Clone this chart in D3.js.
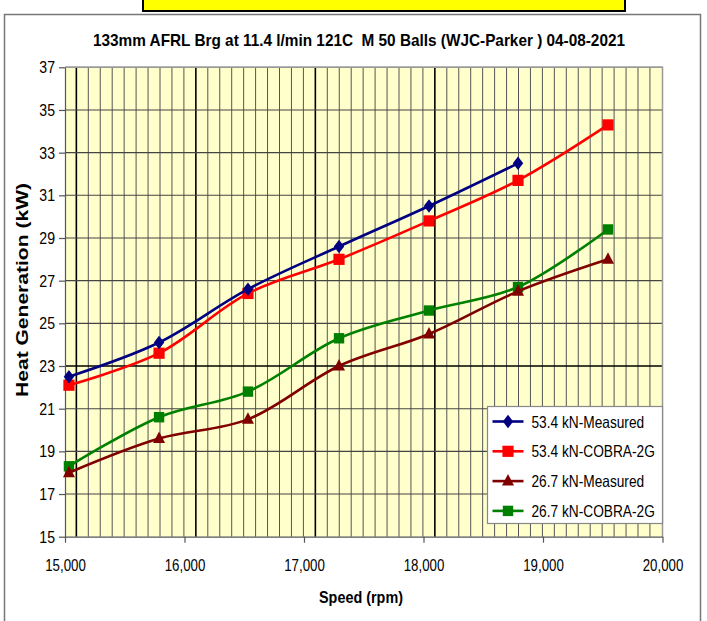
<!DOCTYPE html>
<html>
<head>
<meta charset="utf-8">
<script src="https://cdn.jsdelivr.net/npm/d3@7"></script>
<style>
  body { margin: 0; background: #fff; }
  svg { display: block; }
  .narrow { font-family: "Liberation Sans", Arial, sans-serif; }
  .bold { font-family: "Liberation Sans", Arial, sans-serif; font-weight: bold; }
</style>
</head>
<body>
<div id="chart"></div>
<script>
const speeds = [15033, 15787, 16531, 17293, 18046, 18791, 19544];
const measured534 = [22.5, 24.1, 26.6, 28.6, 30.5, 32.5];
const cobra534 = [22.1, 23.6, 26.4, 28.0, 29.8, 31.7, 34.3];
const measured267 = [18.0, 19.6, 20.5, 23.0, 24.5, 26.5, 28.0];
const cobra267 = [18.3, 20.6, 21.8, 24.3, 25.6, 26.7, 29.4];
const seriesNames = ["53.4 kN-Measured", "53.4 kN-COBRA-2G", "26.7 kN-Measured", "26.7 kN-COBRA-2G"];
const yTicks = [15, 17, 19, 21, 23, 25, 27, 29, 31, 33, 35, 37];
const xTicks = [15000, 16000, 17000, 18000, 19000, 20000];

const W = 707, H = 621;
const margin = { top: 67.3, left: 65, right: 44.5, bottom: 84.3 };
const width = W - margin.left - margin.right,
      height = H - margin.top - margin.bottom;

const svg = d3.select("#chart").append("svg")
    .attr("width", W)
    .attr("height", H);

// outer frame + yellow box at top
svg.append("rect")
    .attr("x", 4.5).attr("y", 14.5)
    .attr("width", 696).attr("height", 620)
    .attr("fill", "none").attr("stroke", "#777").attr("stroke-width", 1.5);
svg.append("rect")
    .attr("x", 143).attr("y", -5)
    .attr("width", 482).attr("height", 16)
    .attr("fill", "#ffff00").attr("stroke", "#000").attr("stroke-width", 2);

svg.append("text")
    .attr("class", "bold")
    .attr("x", 359).attr("y", 46)
    .attr("text-anchor", "middle")
    .attr("font-size", 17)
    .style("white-space", "pre")
    .attr("textLength", 532).attr("lengthAdjust", "spacingAndGlyphs")
    .text("133mm AFRL Brg at 11.4 l/min 121C  M 50 Balls (WJC-Parker ) 04-08-2021");

const g = svg.append("g")
    .attr("transform", "translate(" + margin.left + "," + margin.top + ")");

const x = d3.scaleLinear().domain([15000, 20000]).range([0, width]);
const y = d3.scaleLinear().domain([15, 37]).range([height, 0]);

g.append("rect")
    .attr("width", width).attr("height", height)
    .attr("fill", "#ffffcc");

// vertical grid lines (offset minor grid)
const vGrid = d3.range(0, 49).map(k => 15095 + 100 * k);
g.selectAll(".vgrid")
  .data(vGrid)
  .enter().append("line")
    .attr("x1", d => x(d)).attr("x2", d => x(d))
    .attr("y1", 0).attr("y2", height)
    .attr("stroke", (d, i) => (i % 10 === 0 && i < 40) ? "#000" : "#555")
    .attr("stroke-width", (d, i) => (i % 10 === 0 && i < 40) ? 1.6 : 1);

// horizontal grid lines
g.selectAll(".hgrid")
  .data(yTicks.slice(1))
  .enter().append("line")
    .attr("x1", 0).attr("x2", width)
    .attr("y1", d => y(d)).attr("y2", d => y(d))
    .attr("stroke", d => d === 23 ? "#000" : "#444")
    .attr("stroke-width", d => d === 23 ? 1.6 : 1.1);

// plot border top/right
g.append("path")
    .attr("d", "M0,0H" + width + "V" + height)
    .attr("fill", "none").attr("stroke", "#999").attr("stroke-width", 1.5);

// axes
const yAxis = g.append("g")
    .call(d3.axisLeft(y).tickValues(yTicks).tickSize(6).tickPadding(4).tickSizeOuter(0));
yAxis.selectAll("text").attr("class", "narrow").attr("font-size", 17).attr("fill", "#000");
yAxis.selectAll("line, path").attr("stroke", "#555").attr("stroke-width", 1.2);

const xAxis = g.append("g")
    .attr("transform", "translate(0," + height + ")")
    .call(d3.axisBottom(x).tickValues(xTicks).tickFormat(d3.format(",")).tickSize(6).tickPadding(17).tickSizeOuter(0));
xAxis.selectAll("text").attr("class", "narrow").attr("font-size", 16).attr("fill", "#000");
xAxis.selectAll("line, path").attr("stroke", "#555").attr("stroke-width", 1.2);

g.selectAll(".tick text").attr("font-family", null);

// axis labels
svg.append("text")
    .attr("class", "bold")
    .attr("x", 361).attr("y", 603)
    .attr("text-anchor", "middle")
    .attr("font-size", 16)
    .attr("textLength", 84).attr("lengthAdjust", "spacingAndGlyphs")
    .text("Speed (rpm)");

svg.append("text")
    .attr("class", "bold")
    .attr("transform", "translate(28,290) rotate(-90)")
    .attr("text-anchor", "middle")
    .attr("font-size", 16)
    .attr("textLength", 214).attr("lengthAdjust", "spacingAndGlyphs")
    .text("Heat Generation (kW)");

// marker shapes
const diamond = { draw(ctx, s) { ctx.moveTo(0, -6.8); ctx.lineTo(5.2, 0); ctx.lineTo(0, 6.8); ctx.lineTo(-5.2, 0); ctx.closePath(); } };
const squareL = { draw(ctx, s) { ctx.rect(-5.6, -5.6, 11.2, 11.2); } };
const squareS = { draw(ctx, s) { ctx.rect(-5.2, -5.2, 10.4, 10.4); } };
const triangle = { draw(ctx, s) { ctx.moveTo(0, -7); ctx.lineTo(6, 4.5); ctx.lineTo(-6, 4.5); ctx.closePath(); } };

const series = [
  { name: seriesNames[0], values: measured534, color: "#000080", shape: diamond },
  { name: seriesNames[1], values: cobra534, color: "#ff0000", shape: squareL },
  { name: seriesNames[2], values: measured267, color: "#800000", shape: triangle },
  { name: seriesNames[3], values: cobra267, color: "#008000", shape: squareS }
];

const line = d3.line()
    .x(d => x(d.s))
    .y(d => y(d.v))
    .curve(d3.curveCatmullRom.alpha(0.5));

// draw in reverse so the first series is on top
series.slice().reverse().forEach(sr => {
  const pts = sr.values.map((v, i) => ({ s: speeds[i], v: v }));
  g.append("path")
      .datum(pts)
      .attr("d", line)
      .attr("fill", "none")
      .attr("stroke", sr.color)
      .attr("stroke-width", 2.6);
  g.selectAll(null)
    .data(pts)
    .enter().append("path")
      .attr("transform", d => "translate(" + x(d.s) + "," + y(d.v) + ")")
      .attr("d", d3.symbol().type(sr.shape))
      .attr("fill", sr.color);
});

// legend
const legend = svg.append("g").attr("transform", "translate(487.5,406.5)");
legend.append("rect")
    .attr("width", 175).attr("height", 117)
    .attr("fill", "#fff").attr("stroke", "#888").attr("stroke-width", 1.2);
const rows = legend.selectAll(".row")
  .data(series)
  .enter().append("g")
    .attr("transform", (d, i) => "translate(0," + (15 + i * 29.8) + ")");
rows.append("line")
    .attr("x1", 5).attr("x2", 36)
    .attr("stroke", d => d.color).attr("stroke-width", 2.6);
rows.append("path")
    .attr("transform", "translate(20.5,0)")
    .attr("d", d => d3.symbol().type(d.shape)())
    .attr("fill", d => d.color);
rows.append("text")
    .attr("class", "narrow")
    .attr("x", 44).attr("y", 6)
    .attr("font-size", 16.5)
    .text(d => d.name);

// squeeze the regular text a bit, like the narrow face in the original
svg.selectAll("text.narrow").each(function() {
  const len = this.getComputedTextLength();
  d3.select(this).attr("textLength", len * 0.83).attr("lengthAdjust", "spacingAndGlyphs");
});
</script>
</body>
</html>
